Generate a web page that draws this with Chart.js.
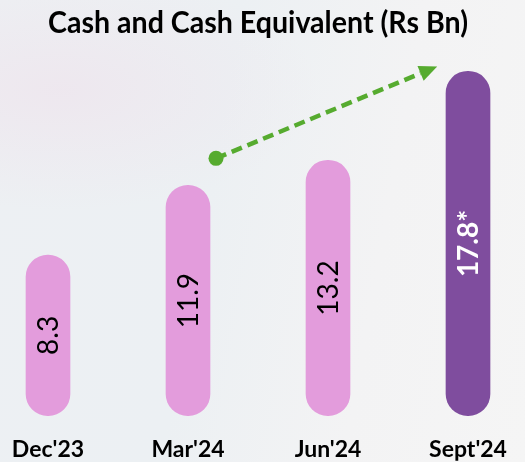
<!DOCTYPE html>
<html>
<head>
<meta charset="utf-8">
<script src="https://cdn.jsdelivr.net/npm/chart.js@4/dist/chart.umd.min.js"></script>
<style>
  html, body { margin: 0; padding: 0; }
  body {
    width: 525px; height: 462px; overflow: hidden;
    background:
      radial-gradient(ellipse 260px 120px at 60px 90px, rgba(240,215,230,0.35), rgba(240,215,230,0) 100%),
      linear-gradient(100deg, #edf0f3 0%, #ecf0f3 40%, #f3f3f4 70%, #f5f5f5 100%);
  }
  #wrap { position: relative; width: 525px; height: 462px; }
</style>
</head>
<body>
<div id="wrap"><canvas id="c" width="525" height="462"></canvas></div>
<script>
// ---- data ----
const categories = ["Dec'23", "Mar'24", "Jun'24", "Sept'24"];
const cashValues = [8.3, 11.9, 13.2, 17.8];
const valueLabels = ['8.3', '11.9', '13.2', '17.8*'];
const barColors = ['#e39cdc', '#e39cdc', '#e39cdc', '#7f4d9e'];
const labelColors = ['#000000', '#000000', '#000000', '#ffffff'];
// trend arrow in data space: [category index, value]
const arrowStart = [1.2, 13.3];
const arrowEnd = [2.78, 18.05];

const FONT = 'Lato, "Open Sans", sans-serif';

const valueLabelPlugin = {
  id: 'valueLabels',
  afterDatasetsDraw(chart) {
    const ctx = chart.ctx;
    const meta = chart.getDatasetMeta(0);
    meta.data.forEach((bar, i) => {
      const cx = bar.x;
      const cy = (bar.y + bar.base) / 2;
      ctx.save();
      ctx.translate(cx, cy);
      ctx.rotate(-Math.PI / 2);
      ctx.font = (i === 3 ? 'bold ' : '') + '28px ' + FONT;
      ctx.fillStyle = labelColors[i];
      ctx.textAlign = 'center';
      ctx.textBaseline = 'middle';
      ctx.fillText(valueLabels[i], 0, 1);
      ctx.restore();
    });
  }
};

const arrowPlugin = {
  id: 'trendArrow',
  afterDatasetsDraw(chart) {
    const ctx = chart.ctx;
    const xs = chart.scales.x, ys = chart.scales.y;
    const x0 = xs.getPixelForValue(arrowStart[0]);
    const y0 = ys.getPixelForValue(arrowStart[1]);
    const x1 = xs.getPixelForValue(arrowEnd[0]);
    const y1 = ys.getPixelForValue(arrowEnd[1]);
    const ang = Math.atan2(y1 - y0, x1 - x0);
    const headLen = 18, headW = 8;
    const bx = x1 - headLen * Math.cos(ang);
    const by = y1 - headLen * Math.sin(ang);
    ctx.save();
    ctx.strokeStyle = '#56ab2f';
    ctx.fillStyle = '#56ab2f';
    ctx.lineWidth = 4.5;
    ctx.setLineDash([11, 6]);
    ctx.beginPath();
    ctx.moveTo(x0, y0);
    ctx.lineTo(bx, by);
    ctx.stroke();
    ctx.setLineDash([]);
    ctx.beginPath();
    ctx.arc(x0, y0, 7.5, 0, Math.PI * 2);
    ctx.fill();
    ctx.beginPath();
    ctx.moveTo(x1, y1);
    ctx.lineTo(bx + headW * Math.sin(ang), by - headW * Math.cos(ang));
    ctx.lineTo(bx - headW * Math.sin(ang), by + headW * Math.cos(ang));
    ctx.closePath();
    ctx.fill();
    ctx.restore();
  }
};

new Chart(document.getElementById('c'), {
  type: 'bar',
  data: {
    labels: categories,
    datasets: [{
      data: cashValues,
      backgroundColor: barColors,
      borderRadius: 22,
      borderSkipped: false,
      barThickness: 44,
      clip: false
    }]
  },
  options: {
    responsive: false,
    animation: false,
    devicePixelRatio: 1,
    layout: { padding: { left: 48, right: 57, top: 0, bottom: 1.3 } },
    plugins: {
      legend: { display: false },
      tooltip: { enabled: false },
      title: {
        display: true,
        text: 'Cash and Cash Equivalent (Rs Bn)',
        color: '#000000',
        font: { family: FONT, size: 31, weight: 'bold', lineHeight: 1.2 },
        padding: { top: 4, bottom: 26.2 }
      }
    },
    scales: {
      x: {
        offset: false,
        grid: {
          display: true,
          drawOnChartArea: false,
          drawTicks: true,
          tickLength: 22,
          tickColor: 'rgba(0,0,0,0)',
          color: 'rgba(0,0,0,0)'
        },
        border: { display: false },
        ticks: {
          color: '#000000',
          padding: 0,
          maxRotation: 0,
          autoSkip: false,
          font: { family: FONT, size: 23, weight: 'bold', lineHeight: 1 }
        }
      },
      y: {
        display: false,
        min: 0,
        max: 18
      }
    }
  },
  plugins: [valueLabelPlugin, arrowPlugin]
});
</script>
</body>
</html>
